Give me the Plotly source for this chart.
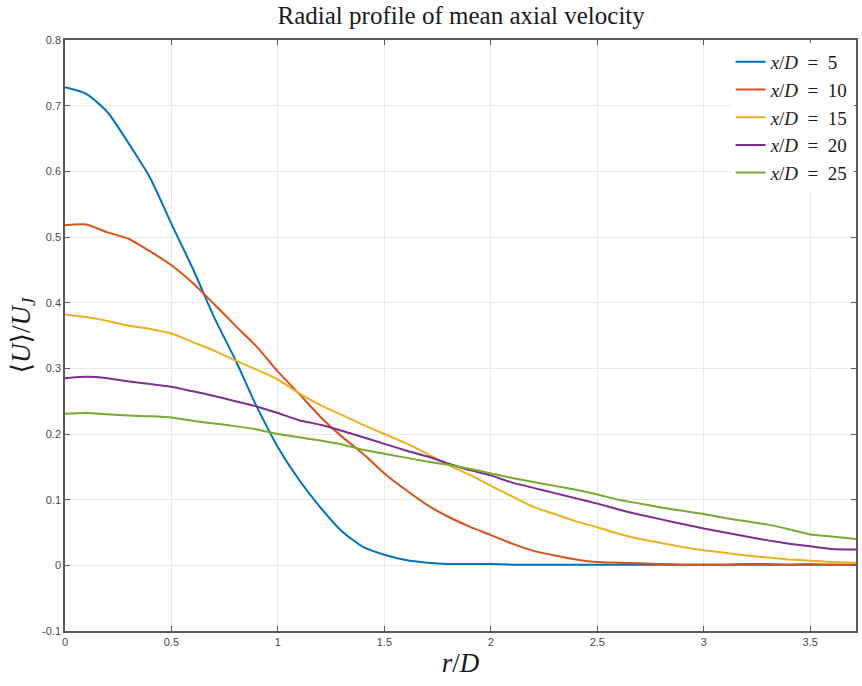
import plotly.graph_objects as go

r = [0.0, 0.1, 0.2, 0.3, 0.4, 0.5, 0.6, 0.7, 0.8, 0.9, 1.0, 1.1, 1.2, 1.3, 1.4, 1.5, 1.6, 1.7,
     1.8, 1.9, 2.0, 2.1, 2.2, 2.3, 2.4, 2.5, 2.6, 2.7, 2.8, 2.9, 3.0, 3.1, 3.2, 3.3, 3.4, 3.5,
     3.6, 3.72]

u_xd5 = [0.728, 0.718, 0.690, 0.642, 0.590, 0.520, 0.452, 0.378, 0.313, 0.242, 0.180, 0.130,
         0.088, 0.052, 0.028, 0.016, 0.008, 0.004, 0.002, 0.002, 0.002, 0.001, 0.001, 0.001,
         0.001, 0.001, 0.001, 0.001, 0.001, 0.001, 0.001, 0.001, 0.001, 0.001, 0.001, 0.001,
         0.001, 0.001]
u_xd10 = [0.518, 0.519, 0.507, 0.497, 0.478, 0.457, 0.430, 0.398, 0.365, 0.333, 0.295, 0.261,
          0.226, 0.196, 0.170, 0.140, 0.115, 0.092, 0.074, 0.059, 0.046, 0.033, 0.022, 0.015,
          0.009, 0.005, 0.004, 0.003, 0.002, 0.001, 0.001, 0.001, 0.002, 0.002, 0.001, 0.002,
          0.001, 0.001]
u_xd15 = [0.382, 0.378, 0.372, 0.365, 0.360, 0.353, 0.340, 0.327, 0.312, 0.298, 0.283, 0.262,
          0.244, 0.229, 0.214, 0.200, 0.186, 0.170, 0.153, 0.138, 0.121, 0.105, 0.089, 0.078,
          0.067, 0.058, 0.048, 0.040, 0.034, 0.028, 0.023, 0.019, 0.015, 0.012, 0.009, 0.007,
          0.005, 0.004]
u_xd20 = [0.285, 0.287, 0.285, 0.280, 0.276, 0.272, 0.265, 0.258, 0.250, 0.242, 0.232, 0.221,
          0.214, 0.205, 0.195, 0.185, 0.175, 0.166, 0.155, 0.145, 0.137, 0.126, 0.118, 0.110,
          0.102, 0.094, 0.085, 0.077, 0.070, 0.063, 0.056, 0.050, 0.044, 0.038, 0.033, 0.029,
          0.025, 0.024]
u_xd25 = [0.231, 0.232, 0.230, 0.228, 0.227, 0.225, 0.220, 0.216, 0.212, 0.207, 0.200, 0.195,
          0.190, 0.184, 0.176, 0.170, 0.164, 0.158, 0.153, 0.147, 0.140, 0.133, 0.127, 0.121,
          0.115, 0.108, 0.100, 0.094, 0.088, 0.083, 0.078, 0.072, 0.067, 0.062, 0.055, 0.047,
          0.044, 0.040]

series = [("5", u_xd5), ("10", u_xd10), ("15", u_xd15), ("20", u_xd20), ("25", u_xd25)]
colors = ["#0072BD", "#D95319", "#EDB120", "#7E2F8E", "#77AC30"]

x_ticks = [0, 0.5, 1, 1.5, 2, 2.5, 3, 3.5]
x_tick_text = ["0", "0.5", "1", "1.5", "2", "2.5", "3", "3.5"]
y_ticks = [-0.1, 0, 0.1, 0.2, 0.3, 0.4, 0.5, 0.6, 0.7, 0.8]
y_tick_text = ["-0.1", "0", "0.1", "0.2", "0.3", "0.4", "0.5", "0.6", "0.7", "0.8"]

SERIF = "Liberation Serif, DejaVu Serif, serif"
SANS = "Liberation Sans, Arial, sans-serif"

fig = go.Figure()
for (label, vals), c in zip(series, colors):
    fig.add_trace(go.Scatter(
        x=r, y=vals, mode="lines",
        name=f"<i>x</i>/<i>D</i>&nbsp;&nbsp;=&nbsp;&nbsp;{label}",
        line=dict(color=c, width=2, shape="spline", smoothing=0.6),
    ))

axis_common = dict(
    showline=True, linecolor="#5a5a5a", linewidth=1.5, mirror="allticks",
    ticks="inside", ticklen=5, tickwidth=1, tickcolor="#5a5a5a",
    showgrid=True, gridcolor="#e8e8e8", gridwidth=1, zeroline=False,
    tickfont=dict(family=SANS, size=11, color="#4a4a4a"),
)

fig.update_layout(
    width=862, height=686,
    margin=dict(l=65, r=4, t=40, b=55),
    paper_bgcolor="white", plot_bgcolor="white",
    title=dict(text="Radial profile of mean axial velocity", x=0.535, xanchor="center",
               y=0.978, yanchor="middle",
               font=dict(family=SERIF, size=25, color="#1a1a1a")),
    xaxis=dict(range=[0, 3.715], tickvals=x_ticks, ticktext=x_tick_text,
               title=dict(text="<i>r</i>/<i>D</i>", font=dict(family=SERIF, size=27, color="#1a1a1a"),
                          standoff=6),
               **axis_common),
    yaxis=dict(range=[-0.1, 0.8], tickvals=y_ticks, ticktext=y_tick_text,
               title=dict(text="⟨<i>U</i>⟩/<i>U</i><sub><i>J</i></sub>",
                          font=dict(family=SERIF, size=27, color="#1a1a1a"), standoff=4),
               **axis_common),
    legend=dict(x=0.997, xanchor="right", y=0.995, yanchor="top",
                bgcolor="white", borderwidth=0,
                font=dict(family=SERIF, size=19, color="#1a1a1a"),
                tracegroupgap=0, itemwidth=30),
    showlegend=True,
)

fig.write_html("out.html")
